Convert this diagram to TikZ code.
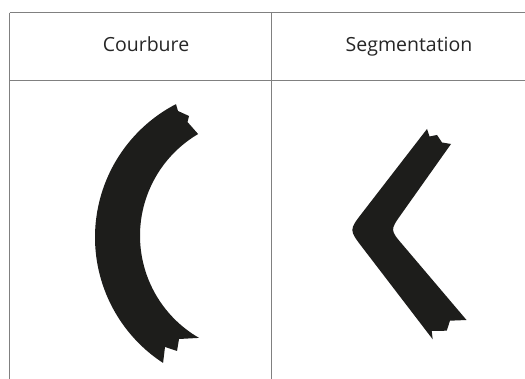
\documentclass[tikz,border=0pt]{standalone}
\usepackage{fontspec}
\setmainfont{Open Sans}
\definecolor{rule}{HTML}{808080}
\definecolor{ink}{HTML}{1D1D1B}
\begin{document}
\begin{tikzpicture}[x=1pt,y=-1pt,
  gridline/.style={draw=rule,line width=1.4pt},
  band/.style={fill=ink},
  head/.style={font=\fontsize{19.5}{23}\selectfont,text=black!85,anchor=base,inner sep=0pt}]
\useasboundingbox[fill=white] (0,0) rectangle (525,379);
% table grid
\coordinate (tl) at (9.5,12.7);
\coordinate (tr) at (525,12.7);
\coordinate (ml) at (9.5,80.7);
\coordinate (mr) at (525,80.7);
\coordinate (bl) at (9.5,379);
\coordinate (ct) at (271.7,12.7);
\coordinate (cb) at (271.7,379);
\draw[gridline] (tl) -- (tr);
\draw[gridline] (ml) -- (mr);
\draw[gridline] (tl) -- (bl);
\draw[gridline] (ct) -- (cb);
% headers
\node[head] (h1) at (146,51.7) {Courbure};
\node[head] (h2) at (409,51.7) {Segmentation};
% curved band
\fill[band] plot[domain=117.4:236.9,samples=90] ({245+150*cos(\x)},{237.3-150*sin(\x)})
  -- (165,347) -- (177,351) -- (179,339)
  -- plot[domain=240:120.5,samples=90] ({258+118*cos(\x)},{235.7-118*sin(\x)})
  -- (187.5,122) -- (189,116) -- (178,111) -- cycle;
% segmented band
\coordinate (o1) at (427,129);
\coordinate (oa) at (362.4,212.6);
\coordinate (oc) at (349,230);
\coordinate (ob) at (362.4,247.5);
\coordinate (o2) at (432.7,339.3);
\coordinate (i1) at (451,144);
\coordinate (ia) at (401.6,213.7);
\coordinate (ic) at (390,230);
\coordinate (ib) at (403,245.2);
\coordinate (i2) at (466.5,320);
\fill[band] (o1) -- (oa) .. controls (oc) .. (ob) -- (o2)
  -- (431.7,331) -- (446.7,330.7) -- (450,320.7) -- (i2)
  -- (ib) .. controls (ic) .. (ia) -- (i1)
  -- (442,142.5) -- (437,135) -- (429.5,136.5) -- cycle;
\end{tikzpicture}
\end{document}
